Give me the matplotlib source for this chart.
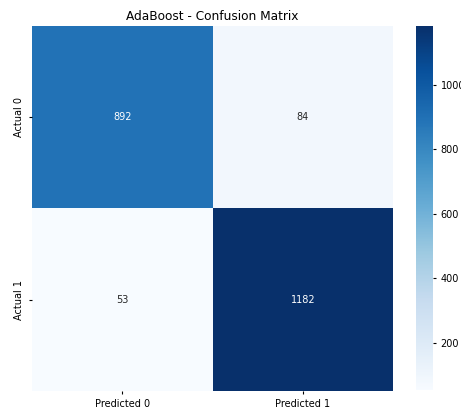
import numpy as np
import matplotlib
matplotlib.use("Agg")
import matplotlib.pyplot as plt
import seaborn as sns

# confusion matrix counts for the AdaBoost model
cm = np.array([[892, 84],
               [53, 1182]])
x_labels = ["Predicted 0", "Predicted 1"]
y_labels = ["Actual 0", "Actual 1"]
cbar_ticks = [200, 400, 600, 800, 1000]

fig = plt.figure(figsize=(4.61, 4.12), dpi=100)
ax = fig.add_axes([0.069, 0.051, 0.784, 0.886])
cax = fig.add_axes([0.902, 0.053, 0.037, 0.884])

sns.heatmap(cm, annot=True, fmt="d", cmap="Blues", ax=ax, cbar_ax=cax,
            xticklabels=x_labels, yticklabels=y_labels,
            annot_kws={"size": 7})
ax.set_title("AdaBoost - Confusion Matrix", fontsize=8.7, pad=4)
ax.tick_params(axis="both", labelsize=7, length=2)
cax.tick_params(labelsize=7, length=2)
cax.set_yticks(cbar_ticks)
for s in cax.spines.values():
    s.set_visible(False)

fig.savefig("out.png", dpi=100)
